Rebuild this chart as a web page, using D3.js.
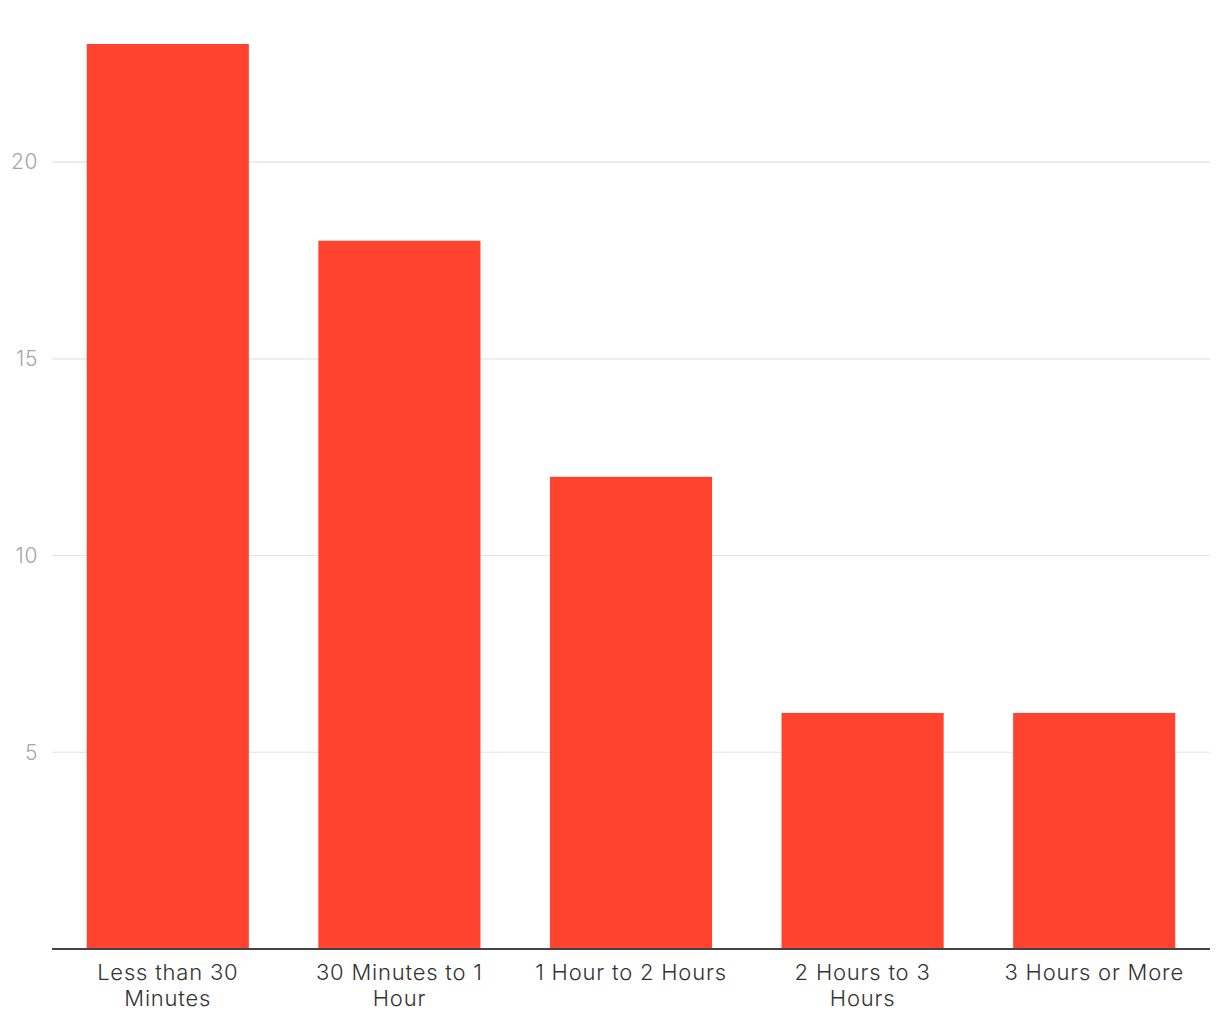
<!DOCTYPE html>
<html><head><meta charset="utf-8">
<script src="https://cdn.jsdelivr.net/npm/d3@7"></script>
<style>body{margin:0;background:#fff;} svg{display:block;font-family:"Inter","Open Sans",sans-serif;}</style>
</head><body><svg id="c" width="1220" height="1020"></svg>
<script>
const categories = ["Less than 30 Minutes", "30 Minutes to 1 Hour", "1 Hour to 2 Hours", "2 Hours to 3 Hours", "3 Hours or More"];
const values = [23, 18, 12, 6, 6];
const yTicks = [5, 10, 15, 20];

const svg = d3.select("#c");
const mLeft = 52, mRight = 1210, mTop = 44, mBottom = 949;
const x = d3.scaleBand().domain(categories).range([mLeft, mRight]).paddingInner(0.3).paddingOuter(0.15);
const y = d3.scaleLinear().domain([0, 23]).range([mBottom, mTop]);

const g = svg.append("g");
g.selectAll("line.grid").data(yTicks).join("line")
  .attr("x1", mLeft).attr("x2", mRight)
  .attr("y1", d => y(d)).attr("y2", d => y(d))
  .attr("stroke", "#e3e3e3").attr("stroke-width", 1.2);
g.selectAll("text.yl").data(yTicks).join("text")
  .attr("x", 38).attr("y", d => y(d)).attr("dy", "0.35em")
  .attr("text-anchor", "end").attr("fill", "#a6a6a6").attr("font-size", 21).attr("font-weight", 300)
  .attr("letter-spacing", 0.6)
  .text(d => d);

svg.selectAll("rect.bar").data(values).join("rect")
  .attr("x", (d, i) => x(categories[i])).attr("width", x.bandwidth())
  .attr("y", d => y(d)).attr("height", d => y(0) - y(d))
  .attr("fill", "#ff432f");

svg.append("line").attr("x1", mLeft).attr("x2", mRight).attr("y1", mBottom).attr("y2", mBottom)
  .attr("stroke", "#444").attr("stroke-width", 2);

function wrap(textSel, width) {
  textSel.each(function(d) {
    const t = d3.select(this);
    const words = d.split(" ");
    const lines = [];
    let line = [];
    const tmp = t.append("tspan");
    words.forEach(w => {
      line.push(w);
      tmp.text(line.join(" "));
      if (tmp.node().getComputedTextLength() > width && line.length > 1) {
        line.pop(); lines.push(line.join(" ")); line = [w];
      }
    });
    lines.push(line.join(" "));
    tmp.remove();
    lines.forEach((l, i) => t.append("tspan").attr("x", t.attr("x")).attr("dy", i === 0 ? 0 : 26).text(l));
  });
}
svg.selectAll("text.xl").data(categories).join("text")
  .attr("x", d => x(d) + x.bandwidth() / 2).attr("y", 980)
  .attr("text-anchor", "middle").attr("fill", "#333").attr("font-size", 22).attr("font-weight", 300)
  .attr("letter-spacing", 0.8)
  .call(wrap, 200);
</script></body></html>
